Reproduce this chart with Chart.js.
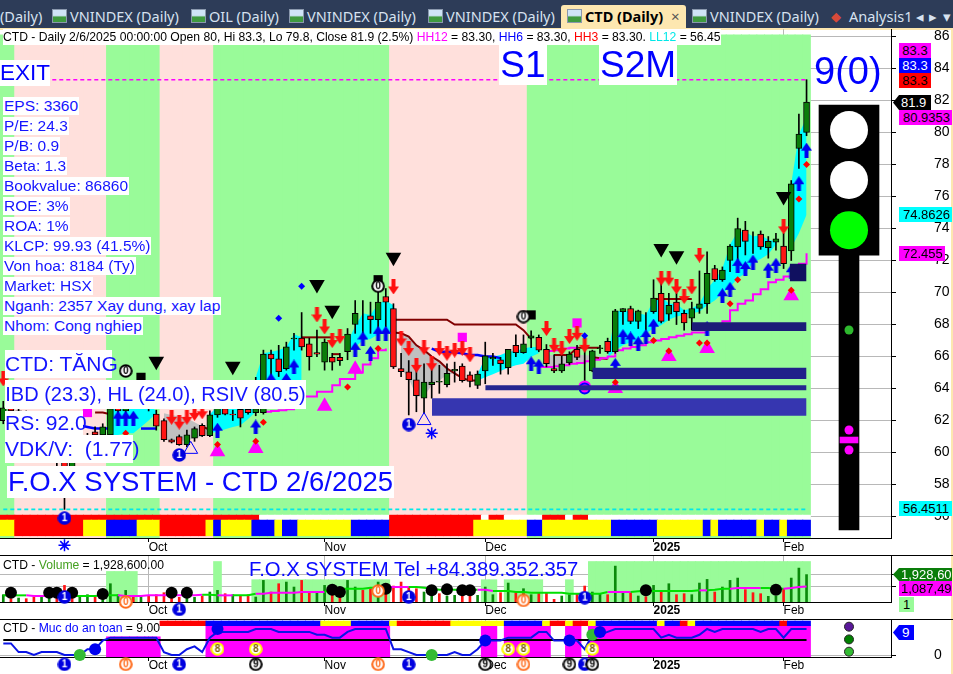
<!DOCTYPE html>
<html>
<head>
<meta charset="utf-8">
<title>CTD (Daily)</title>
<script src="https://cdn.jsdelivr.net/npm/chart.js@4"></script>
<style>
html,body{margin:0;padding:0;background:#fff;width:953px;height:674px;overflow:hidden;font-family:"Liberation Sans",Arial,sans-serif}
canvas{position:absolute;left:0}
#tabs{position:absolute;left:0;top:0;width:953px;height:28px;background:#2d3c58}
#tabline{position:absolute;left:0;top:28px;width:953px;height:2px;background:#fde7b0}
#edge{position:absolute;left:951px;top:28px;width:2px;height:646px;background:#fde7b0}
.t{position:absolute;white-space:pre;line-height:1}
.tab{position:absolute;top:9px;font:14.5px "Noto Sans",sans-serif;color:#d7e2f0;white-space:pre;line-height:15px}
.ico{position:absolute;top:9px;width:15px;height:14px;background:linear-gradient(#cfe4f7 45%,#3f9a3f 60%);border:1px solid #8a98ad;box-sizing:border-box}
.hr{position:absolute;left:0;width:953px;height:1px;background:#000}
</style>
</head>
<body>
<div id="tabs"></div><div id="tabline"></div><div id="edge"></div>
<canvas id="main" width="953" height="526" style="top:29px"></canvas>
<canvas id="vol" width="953" height="64" style="top:555px"></canvas>
<canvas id="safe" width="953" height="55" style="top:619px"></canvas>
<div class="hr" style="top:555px"></div><div class="hr" style="top:619px"></div>
<div id="over"></div>
<script>
// --- du lieu gia (doc tu hinh) ---
const opens  = [62.0,62.8,62.6,62.2,62.0,61.7,61.0,60.2,60.0,59.1,60.0,60.4,61.3,61.1,61.1,62.8,62.6,63.2,63.7,63.2,
  62.4,62.0,60.8,61.0,60.5,60.9,61.7,61.05,62.35,62.75,62.4,62.7,62.7,62.5,62.5,66.15,65.85,65.25,67.1,67.15,
  66.8,66.25,65.65,65.95,65.95,66.3,68.0,68.75,68.55,68.3,69.75,69.0,65.25,65.05,64.55,63.4,64.25,64.4,64.25,65.1,
  65.4,64.85,64.2,65.1,65.85,65.8,65.3,66.7,66.25,67.15,67.2,66.45,65.25,65.1,65.6,66.45,65.3,65.1,66.5,66.95,
  66.3,68.8,69.0,68.2,68.75,68.8,69.95,68.65,69.4,68.7,68.4,69.0,69.3,71.5,70.8,72.0,72.85,73.9,73.2,73.65,
  72.8,73.15,72.9,72.6,79.0,80.0];
const highs  = [63.2,63.0,62.8,62.6,62.4,62.0,61.2,60.5,60.4,60.2,60.6,61.2,61.6,61.8,63.0,63.3,63.4,64.0,64.5,63.4,
  62.65,62.1,60.85,61.1,61.4,61.6,61.8,62.6,63.2,63.0,62.65,62.9,62.9,64.7,66.4,66.4,66.7,66.9,67.45,68.75,
  67.15,67.65,67.1,66.2,66.2,67.75,69.5,69.5,69.4,70.25,70.25,69.3,66.2,65.75,65.35,65.55,65.55,65.45,65.55,65.65,
  65.55,65.05,65.1,66.9,66.2,65.95,66.45,67.35,67.35,67.6,67.35,66.75,66.1,66.3,66.3,66.7,66.7,66.4,66.7,67.15,
  68.95,69.0,69.15,68.9,68.75,70.8,70.65,69.95,69.95,68.9,69.4,71.35,72.55,71.7,71.6,73.0,74.65,74.45,73.8,73.85,
  73.5,73.7,73.7,77.0,81.15,83.3];
const lows   = [61.8,62.2,62.0,61.8,61.5,60.8,60.0,59.0,56.45,58.9,59.8,60.2,60.8,60.9,61.0,62.4,62.3,62.9,63.2,62.6,
  61.4,60.7,60.6,60.45,60.35,60.7,61.0,61.0,62.2,62.35,62.0,61.6,62.4,62.3,62.4,64.5,64.75,65.15,66.4,66.4,
  65.15,66.0,65.15,65.15,65.45,65.8,67.45,67.45,67.45,67.75,67.85,65.25,64.75,62.35,62.55,62.45,63.4,63.7,64.1,64.4,
  64.4,64.1,64.0,64.3,65.45,64.9,64.9,66.0,66.2,66.55,66.3,65.35,65.0,65.0,65.5,65.8,64.3,65.05,66.2,66.2,
  66.2,68.0,68.05,67.75,67.65,68.7,68.1,68.25,68.0,67.65,67.65,68.7,68.7,70.7,70.7,71.3,71.8,72.35,72.45,72.7,
  72.15,72.65,71.5,72.0,77.75,79.8];
const closes = [62.8,62.6,62.2,62.0,61.7,61.0,60.2,59.5,59.1,60.0,60.4,61.0,61.1,61.6,62.75,62.6,63.2,63.7,63.2,62.9,
  61.65,60.8,60.65,60.5,61.1,61.5,61.05,62.35,62.9,62.4,62.35,62.15,62.5,62.75,66.15,65.85,65.05,66.6,67.15,66.6,
  66.0,66.15,66.9,65.65,65.75,67.4,68.7,68.75,68.3,69.4,69.4,65.35,65.05,64.55,63.55,64.4,64.4,64.45,64.95,65.2,
  64.5,64.45,64.9,66.05,65.95,65.55,66.45,66.25,66.8,67.3,66.4,65.55,65.1,65.55,66.15,65.95,65.3,66.35,66.55,66.3,
  68.85,69.0,68.2,68.85,68.75,69.65,68.2,69.2,68.8,68.1,69.0,69.3,71.2,70.8,71.4,72.9,74.0,73.2,73.2,72.85,
  73.2,73.35,71.8,76.8,79.9,81.9];

const yTicks = [56,58,60,62,64,66,68,70,72,74,76,78,80,82,84,86];
const monthTicks = [19,42,63,85,102];
const monthNames = ['Oct','Nov','Dec','2025','Feb'];

// nen hong/xanh: [mau, chi so ket thuc]
const bandRuns = [['G',2],['P',14],['G',21],['P',28],['G',51],['P',69],['G',106]];
const stripeRuns = [['Y',2],['R',11],['Y',14],['B',18],['Y',21],['R',27],['Y',28],['B',29],['Y',33],['B',36],['Y',37],['B',39],
  ['Y',46],['B',51],['R',62],['Y',69],['B',71],['Y',80],['B',86],['Y',92],['B',93],['Y',94],['B',99],['Y',100],['B',102],['Y',103],['B',106]];
const stripeTopRuns = [['R',34],['W',51],['R',63],['W',64],['R',66],['W',71],['R',74],['W',75],['R',77],['W',106]];

// may: [chi so dau, tren, duoi]
const cyanClouds = [
  [14,[63,63,63,63,63,63,62.6],[61.1,61.1,61.2,61.2,61.6,62,62.45]],
  [27,[62.4,62.9,63,63,63,63,64.7,66.2,66.3,66.4,66.6,67.4,67.2],[61.2,61.3,61.45,61.6,61.7,62.1,62.55,63.05,63.5,63.9,64.2,64.4,64.55]],
  [45,[66.9,67.9,68.7,68.6,69.3,69.5,69.2],[66.3,66.6,67,67.1,67.4,67.5,67.5]],
  [62,[64.9,65.95,66,66.1,66.3,66.35,66.5,66.6,66.6],[64.5,64.7,64.9,65.1,65.3,65.45,65.55,65.98,66.2]],
  [79,[65.9,68.8,68.9,68.8,68.7,68.6,69.5,69.8,69.3,69.3,68.9,69,69.3,70.2,70.8,71.5,73,73.8,73.8,73.5,73.6,73.3,73.2],
      [65.9,66.4,66.7,66.9,67,67.45,67.75,67.95,68.3,68.5,68.6,68.7,68.8,69.2,69.5,69.95,70.35,70.9,71.2,71.9,72.1,72.4,73]],
  [103,[76.8,79.9,80.9353],[72.8,73.7,74.8626]]
];
const greyClouds = [
  [21,[62.45,62.35,62.25,62.15,61.9,61.65,61.4],[60.8,60.75,60.75,60.75,60.9,61,61.2]],
  [52,[67.45,67.25,66.7,66.4,66,65.7,65.25,64.95,64.65,64.5],[65.25,64.65,63.5,63.5,64.2,64.5,64.85,64.95,64.65,64.5]],
  [71,[66.1,66.1,66.1,66.1,66.1,66.1,66.05,66,66],[65.35,65.35,65.4,65.5,65.55,65.6,65.7,65.85,65.95]]
];
// cac doan duong: [chi so dau, gia tri]
const maroonLines = [
  [12,[62.5,62.5,62.4]],[26,[61.65,61.4]],[39,[67.2,67.2,67.2,67.2,67.2]],[43,[66.15,66.15]],
  [51,[68.3,68.3,68.3,68.3,68.3,68.3,68.3,68.3,68,68,68,68,68,68,68,68,68,67.65,67.1]],
  [51,[67.5,67.45,67.25,66.7,66.4,66,65.7,65.25,64.95,64.65,64.5,64.5]],
  [72,[66.1,66.1,66.1,66.55,66.55,66.55,66.55]],[77,[65.95,65.9,65.85]],[85,[69.6,69.6,69.6,69.6,69.6,69.6]]
];
const blueLines = [[10,[61.7,61.6,61.5,61.5,61.5]],[18,[61.5,61.5,61.5]],[56,[66.5,66.3,66.3,66.25,66.2,66.1,66.1,66,66,65.9]]];
const magentaLines = [
  [34,[62.55,62.6,62.65,62.7,63.1,63.5,63.5,63.8,63.8,64.2,64.6,64.6,65,65.5,65.9,66.4,66.5]],
  [71,[66.35,66.4,66.5,66.55,66.6]],
  [70,[65.35,65.35,65.4,65.45,65.55,65.6,65.7,65.8,65.9,66,66.4,66.5,66.6,66.7,66.9,67,67.1,67.2,67.3,67.4,67.5,67.5,67.9,68,68.2,68.9,69.3,69.5,69.9,70.2,70.65,70.8,71,71.1,71.8,72.455]]
];
const hh12 = 83.3, ll12 = 56.4511;

// vung ho tro: [tu, den, duoi, tren, mau]
const zones = [
  [56.04,105,62.3,63.4,'#3636b0'],[63,105,63.9,64.2,'#25258f'],[77,105,64.6,65.3,'#20208a'],
  [90,105,67.6,68.15,'#1c1c78'],[102.8,105,70.7,71.8,'#101060']
];

const redArrows = [[0,64.6],[22,62.2],[23,61.9],[24,62.2],[25,62.45],[26,62.55],[41,68.6],[42,67.85],[43,67],[44,67.25],[51,70.35],
  [52,67.1],[53,66.5],[54,65.45],[55,66.55],[56,65.55],[57,66.5],[58,66.2],[59,66.4],[60,66.5],[61,66.1],[71,67.75],[72,66.7],[73,66.5],
  [74,67.25],[75,67.45],[76,66.7],[86,70.9],[87,70.9],[88,70.35],[89,69.75],[90,70.35],[91,72.34],[102,74.1]];
const blueArrows = [[15,62.15],[16,62.15],[17,62.15],[28,61.4],[33,61.6],[35,64.5],[37,64.5],[38,65.35],[46,66.45],[47,67.1],[48,66.2],
  [49,67.45],[50,67.45],[69,65.55],[70,65.4],[80,65.45],[81,67.25],[82,67.1],[83,66.8],[84,67.25],[85,67.9],[92,67.75],[94,69.8],[95,70.2],
  [96,71.7],[97,71.5],[98,71.9],[100,71.4],[101,71.7],[103,71.3],[104,76.8],[105,78.9]];
const blackDown = [[20,65.7],[30,65.4],[41,70.5],[43,68.9],[51,72.2],[86,72.76],[88,72.3],[102,76]];
const magentaUp = [[28,60.05],[33,60.25],[42,62.9],[46,65.2],[80,64],[87,66],[92,66.5],[103,69.8]];
const magentaSquares = [[11,62.5],[60,67.2],[75,68.1]];
const blackSquares = [[18,64.7],[49,70.8],[69,68.6]];
const blackCircled = [[16,65.1],[49,70.4],[68,68.5]];
const redDiamonds = [[16,61.2],[28,60.5],[33,60.7],[34,61.9],[45,64.1],[49,66.5],[80,64.4],[85,67],[87,66.35],[91,66.85],[92,66.85],[95,69.3],[96,70.8],[103,70.15],[104,75.85],[105,78]];
const blueDiamonds = [[36,68.4],[39,70.4],[76,67.3]];
const hollowTriangles = [[24.5,60.2],[55,62]];
const snowflakes = [[56,61.2],[8,54.2]];
const blueOnes = [[8,55.9],[23,59.85],[53,61.75]];
const hollowCircle = [[76,64]];

// den giao thong
const lightX = [110.55];
const lightBox = [72.34,81.72], lightPole = [55.16,72.34], lightBar = [60.6,60.97];
const lightLamps = [[80.16,'#ffffff'],[77.03,'#ffffff'],[73.9,'#00ff00']];
const lightDots = [[67.66,'#2eb82e'],[61.41,'#ff00ff'],[60.16,'#ff00ff']];

// --- volume (nghin cp) ---
const volumes = [515,234,281,234,351,468,281,468,1170,702,421,515,328,468,1287,515,819,328,421,468,
  515,655,421,328,421,328,421,702,819,585,515,421,515,351,1521,702,1287,1404,1053,1521,
  702,702,1170,936,819,1521,1053,819,936,1404,819,1123,1404,1053,936,702,421,585,421,468,
  585,468,468,1053,515,655,1334,655,936,515,655,655,187,421,515,585,1123,702,585,515,
  2527,702,655,421,374,1170,772,1287,515,585,515,1334,1591,702,1053,1521,1685,866,655,585,
  398,421,936,1685,2387,1929];
const volSides = 'GRGRRGGRRRGGRGGGGRGRRRRRGGRGGRGRRGGRRGGRRGGRRGGRRGRRRRRGGRGGRRGGGRGRGGRRRGGRRGGRGGRGRGRGRRGGGRGGGRRRGGRGGG';
const volMa = [468,468,468,468,421,421,421,421,421,421,421,421,421,468,468,468,421,421,421,468,
  468,468,468,468,468,468,515,515,468,468,468,468,468,585,585,655,655,655,655,702,
  702,702,702,936,936,936,936,936,1000,1000,1053,1053,1053,1053,1053,1000,936,868,868,868,
  868,868,868,868,772,772,772,702,702,655,655,655,655,655,585,585,585,585,585,702,
  702,702,702,749,772,772,772,772,772,772,772,819,819,866,936,936,983,983,983,983,
  983,936,936,983,1053,1087];
const volMaMagenta = [[3,8],[15,26],[28,30],[33,42],[50,53],[62,64],[79,82],[91,92],[95,99],[102,105]];
const volBands = [[14,18,2150],[28,29,2850],[33,51,1570],[63,65,1570],[66,71,1570],[74,75,1570],[77,106,2850]];
const volDots = [[1,655],[6,655],[7,655],[9,655],[13,562],[22,655],[24,655],[43,866],[44,702],[50,936],[56,819],[58,889],[60,819],[61,819],[84,819],[101,866]];
const volTicks = [1087.49,1928.6];
const volNums = [['1',8,351],['0',16,0],['1',23,-520],['0',49,772],['1',53,351],['0',68,117],['1',76,304]];

// --- muc do an toan ---
const safety = [4,4,1,1,0,1,1,1,0,0,0,2,2,5,6,6,6,6,6,6,6,1,0,0,2,3,1,6,8,8,8,8,8,9,9,9,8,8,8,8,8,7,7,6,6,8,9,9,9,9,9,2,2,1,0,0,0,0,0,1,0,0,2,
  5,5,5,6,6,6,6,8,8,5,5,5,5,2,7,7,8,9,9,9,9,9,9,6,7,6,6,6,7,9,8,9,9,9,9,9,8,9,9,6,9,9,9];
const safeLevel = 5.2;
const safeFill = [[14,21,6.3],[27,51,10.16],[63,65,10.16],[66,72,10.16],[74,76,10.16],[77,106,10.16]];
const safeStripeRuns = [[21,'R'],[27,'B'],[42,'Y'],[46,'B'],[51,'Y'],[52,'R'],[59,'Y'],[66,'B'],[71,'Y'],[72,'R'],[74,'Y'],[75,'R'],[77,'Y'],[78,'B'],[86,'Y'],[87,'B'],[89,'R'],[90,'Y'],[91,'B'],[102,'R'],[103,'B'],[106,'']];
const safeBlueDots = [[12,2],[28,9],[63,5],[74,5],[78,8]];
const safeGreenDots = [[10,0],[56,0],[77,7]];
const safeNums = [['1',8,-3.2],['0',16,-3.2],['1',23,-3.2],['8',28,2.1],['8',33,2.1],['9',33,-3.2],['0',49,-3.2],['1',53,-3.2],
  ['9',63,-3.2],['8',66,2.1],['8',68,2.1],['0',68,-3.2],['9',74,-3.2],['1',76,-3.2],['9',77,-3.2],['8',77,2.1]];
const sideDots = [[9.8,'#5a189a'],[5.4,'#008000'],[1.15,'#33bb33']];

// --- mau ---
const COLORS = {G:'#99fb99',P:'#ffe0dc',Y:'#ffff00',R:'#ff0000',B:'#0000ff',W:'#ffffff',
  up:'#0a7d0a',down:'#ff1414',cyan:'#00ffff',grey:'#c0c0c0',maroon:'#800000',magenta:'#ff00ff'};
const xMin = -0.43, xMax = 116.04;
const FONT = '"Liberation Sans",Arial,sans-serif';

// --- sprite ---
function sprite(w,h,draw){
  const c = document.createElement('canvas'); c.width=w; c.height=h;
  draw(c.getContext('2d')); return c;
}
function arrow(color,down){
  return sprite(11,15,g=>{
    if(down){ g.translate(0,15); g.scale(1,-1); }
    g.fillStyle=color;
    g.beginPath(); g.moveTo(5.5,0); g.lineTo(11,8); g.lineTo(7.5,8); g.lineTo(7.5,15); g.lineTo(3.5,15); g.lineTo(3.5,8); g.lineTo(0,8); g.closePath(); g.fill();
  });
}
function numDot(txt,ring,fill,ink){
  return sprite(14,14,g=>{
    g.beginPath(); g.arc(7,7,5.8,0,Math.PI*2); g.fillStyle=fill; g.fill();
    g.lineWidth=2; g.strokeStyle=ring; g.stroke();
    g.fillStyle=ink; g.font='bold 10px '+FONT; g.textAlign='center'; g.textBaseline='middle';
    g.fillText(txt,7,7.5);
  });
}
const NUM = {
  '1':numDot('1','#0000e0','#0000e0','#ffffff'),
  '0':numDot('0','#ff6a1a','#ffffff','#ff6a1a'),
  '8':numDot('8','#ffff00','#ffffff','#806000'),
  '9':numDot('9','#000000','#ffffff','#000000'),
  'k':numDot('0','#000000','#ffffff','#000000')
};
const ARROW_R = arrow('#ff1010',true), ARROW_B = arrow('#0000f0',false);
// sprite ve theo kich thuoc rieng; ban kinh lon de khong bi bo ngoai vung ve
const SPRITE_MARGIN = 30;

// --- dataset helper ---
function expand(runs,start){
  const out=[]; let a=start||0;
  runs.forEach(r=>{ for(let i=a;i<r[1];i++) out.push({i,k:r[0]}); a=r[1]; });
  return out;
}
function stack(){
  const list=[];
  list.add=d=>{ d.order=-list.length; list.push(d); return d; };
  return list;
}
function bars(list,pts,lo,hi,thick,color,extra){
  list.add(Object.assign({type:'bar',grouped:false,barThickness:thick,borderSkipped:false,borderWidth:0,
    data:pts.map(p=>({x:p.x,y:[p.lo!==undefined?p.lo:lo,p.hi!==undefined?p.hi:hi]})),
    backgroundColor:color},extra||{}));
}
function marks(list,pts,style,radius,color,extra){
  list.add(Object.assign({type:'line',showLine:false,clip:false,data:pts.map(p=>({x:p[0],y:p[1]})),
    pointStyle:style,pointRadius:radius,pointBackgroundColor:color,pointBorderColor:color,pointBorderWidth:0},extra||{}));
}
function path(list,seg,color,width,extra){
  list.add(Object.assign({type:'line',data:seg[1].map((v,k)=>({x:seg[0]+k,y:v})),
    borderColor:color,borderWidth:width,pointRadius:0,tension:0,fill:false},extra||{}));
}
function cloud(list,c,color){
  list.add({type:'line',data:c[1].map((v,k)=>({x:c[0]+k,y:v})),borderWidth:0,pointRadius:0,fill:'+1',backgroundColor:color});
  list.add({type:'line',data:c[2].map((v,k)=>({x:c[0]+k,y:v})),borderWidth:0,pointRadius:0,fill:false});
}
function flatFill(list,x0,x1,lo,hi,color){
  list.add({type:'line',data:[{x:x0,y:hi},{x:x1,y:hi}],borderWidth:0,pointRadius:0,fill:'+1',backgroundColor:color});
  list.add({type:'line',data:[{x:x0,y:lo},{x:x1,y:lo}],borderWidth:0,pointRadius:0,fill:false});
}

function paneOptions(yMin,yMax,ticks,labelFn,labelFont,xPad){
  return {
    responsive:false,animation:false,events:[],
    layout:{padding:0,autoPadding:false},
    plugins:{legend:{display:false},tooltip:{enabled:false}},
    scales:{
      x:{type:'linear',offset:false,min:xMin,max:xMax,
        afterBuildTicks:s=>{ s.ticks=monthTicks.map(v=>({value:v})); },
        afterFit:s=>{ s.height=17; s.paddingLeft=0; s.paddingRight=0; },
        grid:{offset:false,color:'#b8b8b8',borderDash:[1,2],drawTicks:true,tickLength:4,tickColor:'#000',tickBorderDash:[]},
        border:{display:true,color:'#000',width:1},
        ticks:{autoSkip:false,maxRotation:0,minRotation:0,align:'start',padding:xPad,color:'#000',
          callback:v=>monthNames[monthTicks.indexOf(v)],
          font:c=>({family:FONT,size:12,weight:c.tick&&monthNames[monthTicks.indexOf(c.tick.value)]==='2025'?'bold':'normal'})}
      },
      y:{type:'linear',position:'right',offset:false,min:yMin,max:yMax,
        afterBuildTicks:s=>{ s.ticks=ticks.map(v=>({value:v})); },
        afterFit:s=>{ s.width=62; s.paddingTop=0; s.paddingBottom=0; },
        grid:{offset:false,color:'#b8b8b8',borderDash:[1,2],tickLength:5,tickColor:'#000',tickBorderDash:[]},
        border:{display:true,color:'#000',width:1},
        ticks:{autoSkip:false,padding:38,color:'#000',font:{family:FONT,size:labelFont},callback:labelFn}
      }
    }
  };
}

// --- khung chinh ---
const priceTop = 86.47, priceBottom = 54.66;
const mainSets = stack();
bars(mainSets,expand(bandRuns).map(b=>({x:b.i})),54.66,86.1,8,expand(bandRuns).map(b=>COLORS[b.k]));
bars(mainSets,expand(stripeTopRuns).map(b=>({x:b.i})),55.78,56.09,8,expand(stripeTopRuns).map(b=>COLORS[b.k]));
bars(mainSets,expand(stripeRuns).map(b=>({x:b.i})),54.8,55.78,8,expand(stripeRuns).map(b=>COLORS[b.k]));
cyanClouds.forEach(c=>cloud(mainSets,c,COLORS.cyan));
greyClouds.forEach(c=>cloud(mainSets,c,COLORS.grey));
maroonLines.forEach(s=>path(mainSets,s,COLORS.maroon,2));
blueLines.forEach(s=>path(mainSets,s,'#0000ff',2.5));
magentaLines.forEach(s=>path(mainSets,s,COLORS.magenta,2,{stepped:'before'}));
path(mainSets,[0,[hh12,hh12]],COLORS.magenta,1.6,{data:[{x:0,y:hh12},{x:105,y:hh12}],borderDash:[4,3]});
path(mainSets,[0,[ll12,ll12]],'#00e8e8',1.6,{data:[{x:0,y:ll12},{x:105,y:ll12}],borderDash:[4,3]});
// nen
bars(mainSets,highs.map((h,i)=>({x:i,lo:lows[i],hi:h})),0,0,1,'#000');
bars(mainSets,opens.map((o,i)=>({x:i,lo:Math.min(o,closes[i]),hi:Math.max(o,closes[i])})),0,0,6,
  opens.map((o,i)=>closes[i]>=o?COLORS.up:COLORS.down),{borderColor:'#000',borderWidth:1});
// ky hieu
marks(mainSets,magentaUp,'triangle',9,COLORS.magenta);
marks(mainSets,magentaSquares,'rect',6.5,COLORS.magenta);
marks(mainSets,blackSquares,'rect',6.5,'#000');
marks(mainSets,blackCircled,NUM.k,SPRITE_MARGIN,'#000');
marks(mainSets,blackDown,'triangle',9,'#000',{pointRotation:180});
marks(mainSets,redArrows,ARROW_R,SPRITE_MARGIN,'#f00');
marks(mainSets,blueArrows,ARROW_B,SPRITE_MARGIN,'#00f');
marks(mainSets,redDiamonds,'rectRot',3.5,'#ff0000');
marks(mainSets,blueDiamonds,'rectRot',3.5,'#0000ff');
marks(mainSets,hollowTriangles,'triangle',8,'rgba(0,0,0,0)',{pointBorderColor:'#0000ff',pointBorderWidth:1});
marks(mainSets,snowflakes,'star',6,'#0000ff',{pointBorderColor:'#0000ff',pointBorderWidth:1.5});
marks(mainSets,blueOnes,NUM['1'],SPRITE_MARGIN,'#00f');
marks(mainSets,[[76,64.1]],'circle',6.5,COLORS.magenta);
marks(mainSets,hollowCircle,'circle',5,'rgba(0,0,0,0)',{pointBorderColor:'#0000ff',pointBorderWidth:2});
zones.forEach(z=>flatFill(mainSets,z[0],z[1],z[2],z[3],z[4]));
// den giao thong
bars(mainSets,lightX.map(x=>({x})),lightPole[0],lightPole[1],20,'#000');
bars(mainSets,lightX.map(x=>({x})),lightBox[0],lightBox[1],60,'#000');
lightLamps.forEach(l=>marks(mainSets,[[lightX[0],l[0]]],'circle',19,l[1]));
lightDots.forEach(d=>marks(mainSets,[[lightX[0],d[0]]],'circle',4.5,d[1]));
bars(mainSets,lightX.map(x=>({x})),lightBar[0],lightBar[1],18,COLORS.magenta);

new Chart(document.getElementById('main'),{
  data:{datasets:mainSets},
  options:paneOptions(priceBottom,priceTop,yTicks,v=>String(v),14,-2)
});

// --- khung volume ---
const volSets = stack();
volBands.forEach(r=>{
  const pts=[]; for(let i=r[0];i<r[1];i++) pts.push({x:i});
  bars(volSets,pts,0,r[2],8,COLORS.G);
});
bars(volSets,volumes.map((v,i)=>({x:i,hi:v})),0,0,2,volumes.map((v,i)=>volSides[i]==='G'?'#0a8a0a':'#ff1414'));
volSets.add({type:'line',data:volMa.map((v,i)=>({x:i,y:v})),pointRadius:0,borderWidth:2,borderColor:'#00e000',
  segment:{borderColor:c=>volMaMagenta.some(r=>c.p0DataIndex>=r[0]&&c.p0DataIndex<r[1])?COLORS.magenta:'#00e000'}});
marks(volSets,volDots,'circle',6,'#000');
volNums.forEach(n=>marks(volSets,[[n[1],n[2]]],NUM[n[0]],SPRITE_MARGIN,'#000'));
new Chart(document.getElementById('vol'),{
  data:{datasets:volSets},
  options:paneOptions(0,3308,volTicks,()=>'',12,-3)
});

// --- khung an toan ---
const safeSets = stack();
safeFill.forEach(r=>{
  const pts=[]; for(let i=r[0];i<r[1];i++) pts.push({x:i});
  bars(safeSets,pts,-0.69,r[2],8,COLORS.magenta);
});
const stripePts=[];
safeStripeRuns.forEach((r,k)=>{
  if(!r[1]) return;
  for(let i=r[0];i<safeStripeRuns[k+1][0];i++) stripePts.push({x:i,k:r[1]});
});
bars(safeSets,stripePts,10.16,11.76,8,stripePts.map(p=>COLORS[p.k]));
path(safeSets,[0,[safeLevel]],'#000',2,{data:[{x:0,y:safeLevel},{x:105,y:safeLevel}]});
safeSets.add({type:'line',data:safety.map((v,i)=>({x:i,y:v})),borderColor:'#0a14e6',borderWidth:2,pointRadius:0,tension:0,clip:false});
marks(safeSets,safeGreenDots,'circle',6,'#33bb33');
marks(safeSets,safeBlueDots,'circle',6,'#0000f0');
safeNums.forEach(n=>marks(safeSets,[[n[1],n[2]]],NUM[n[0]],SPRITE_MARGIN,'#000'));
sideDots.forEach(d=>marks(safeSets,[[110.55,d[0]]],'circle',4.5,d[1],{pointBorderColor:'#222',pointBorderWidth:1}));
new Chart(document.getElementById('safe'),{
  data:{datasets:safeSets},
  options:paneOptions(-0.69,12.46,[0],v=>String(v),14,-3)
});

// --- chu phu ---
const over = document.getElementById('over');
function label(txt,x,y,w,h,size,color,bg,opt){
  const d=document.createElement('div'); d.className='t';
  d.style.cssText+=`left:${x}px;top:${y}px;${w?`width:${w}px;`:''}height:${h}px;line-height:${h}px;font-size:${size}px;color:${color};${bg?`background:${bg};`:''}`+(opt||'');
  if(Array.isArray(txt)) txt.forEach(p=>{ const s=document.createElement('span'); s.textContent=p[0]; s.style.color=p[1]; d.appendChild(s); });
  else d.textContent=txt;
  over.appendChild(d); return d;
}
const headerParts = [['CTD - Daily 2/6/2025 00:00:00 Open 80, Hi 83.3, Lo 79.8, Close 81.9 (2.5%) ','#000'],['HH12','#ff00ff'],[' = 83.30, ','#000'],['HH6','#0000ff'],[' = 83.30, ','#000'],['HH3','#ff0000'],[' = 83.30. ','#000'],['LL12','#00e8e8'],[' = 56.45','#000']];
label(headerParts,3,29,718,16,12.15,'#000','#fff');
const stats = ['EPS: 3360','P/E: 24.3','P/B: 0.9','Beta: 1.3','Bookvalue: 86860','ROE: 3%','ROA: 1%','KLCP: 99.93 (41.5%)','Von hoa: 8184 (Ty)','Market: HSX','Nganh: 2357 Xay dung, xay lap','Nhom: Cong nghiep'];
stats.forEach((s,i)=>label(s,3,97+i*20,0,18,15.5,'#1414ff','#fff','padding:0 1px;'));
label('EXIT',0,60,50,26,22.5,'#0000ff','#fff');
label('S1',499,45,48,40,37,'#0000ff','#fff','text-align:center;');
label('S2M',599,45,78,40,37,'#0000ff','#fff','text-align:center;');
label('9(0)',814,50,0,42,38,'#0000ff');
label('CTD: TĂNG',5,350,107,28,21,'#1414ff','#fff','text-align:center;');
label('IBD (23.3), HL (24.0), RSIV (80.5)',5,380,301,29,20,'#1414ff','#fff','text-align:center;');
label('RS: 92.0',5,411,78,24,21,'#1414ff','#fff','text-align:center;');
label('VDK/V:  (1.77)',5,435,128,28,21,'#1414ff','#fff','text-align:center;');
label('F.O.X SYSTEM - CTD 2/6/2025',7,466,387,32,27.5,'#0a0aff','#fff','text-align:center;');
label('F.O.X SYSTEM Tel +84.389.352.357',249,558,0,22,20.3,'#0a0aff');
label([['CTD - ','#000'],['Volume','#44a020'],[' = 1,928,600.00','#000']],3,558,0,14,12.15,'#000');
label([['CTD - ','#000'],['Muc do an toan','#0000ff'],[' = 9.00','#000']],3,621,156,15,12.15,'#000','#fff');

const POINT='clip-path:polygon(6px 0,100% 0,100% 100%,6px 100%,0 50%);padding-left:8px;box-sizing:border-box;';
const MONO='padding-left:4px;box-sizing:border-box;';
label('83.3',899,43,32,15,13,'#000','#ff00ff','text-align:center;');
label('83.3',899,58,32,15,13,'#fff','#0000ff','text-align:center;');
label('83.3',899,73,32,15,13,'#000','#ff0000','text-align:center;');
label('81.9',893,95,38,15,13,'#fff','#000',POINT);
label('80.9353',899,110,53,15,13,'#000','#ff00ff',MONO);
label('74.8626',899,207,53,15,13,'#000','#00ffff',MONO);
label('72.455',899,246,46,15,13,'#000','#ff00ff',MONO);
label('56.4511',899,501,53,15,13,'#000','#00ffff',MONO);
label('1,928,600',893,568,59,13,13,'#fff','#0a7d0a',POINT+'overflow:hidden;');
label('1,087,490',899,581,53,15,13,'#000','#ff00ff','padding-left:2px;box-sizing:border-box;overflow:hidden;');
label('1',899,597,15,15,13,'#000','#99fb99','text-align:center;');
label('9',893,625,21,15,13.5,'#fff','#0000ff',POINT+'padding-left:9px;');

// --- thanh tab ---
const tabs = document.getElementById('tabs');
function tab(txt,x,cls,extra){ const d=document.createElement('div'); d.className=cls; d.textContent=txt; d.style.left=x+'px'; if(extra) d.style.cssText+=extra; tabs.appendChild(d); }
tab('',561,'t','top:5px;width:125px;height:23px;background:#fde7b0;border-radius:3px 3px 0 0;');
[['(Daily)',0],['VNINDEX (Daily)',70],['OIL (Daily)',209],['VNINDEX (Daily)',307],['VNINDEX (Daily)',446],['VNINDEX (Daily)',710],['Analysis1',849]].forEach(t=>tab(t[0],t[1],'tab'));
[52,191,289,428,567,692].forEach(x=>tab('',x,'ico'));
tab('CTD (Daily)',585,'tab','color:#000;font-weight:bold;');
tab('×',671,'tab','color:#555;font-size:15px;');
tab('◆',831,'tab','color:#d84a3a;font-size:13px;');
tab('◂',916,'tab','color:#d7e2f0;');tab('▸',929,'tab','color:#d7e2f0;');tab('▾',943,'tab','color:#d7e2f0;');
</script>
</body>
</html>
